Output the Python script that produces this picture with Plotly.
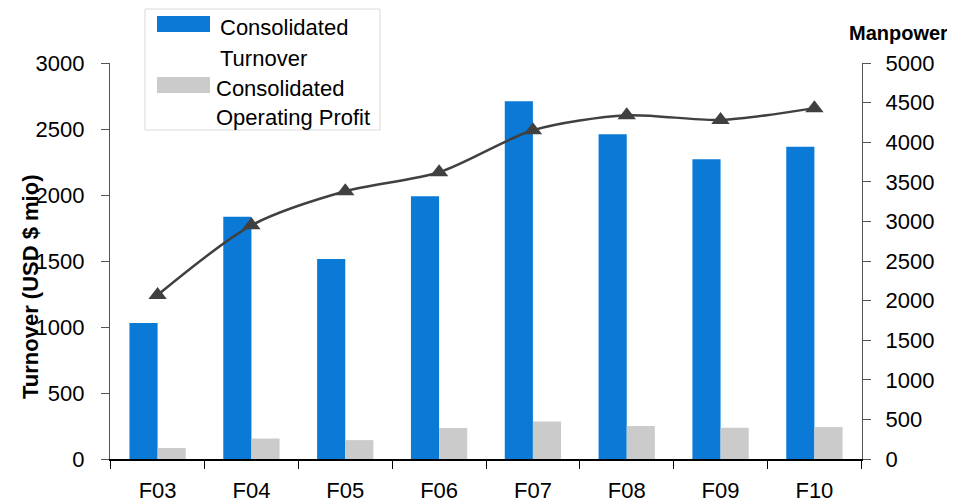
import plotly.graph_objects as go

categories = ["F03", "F04", "F05", "F06", "F07", "F08", "F09", "F10"]
turnover = [1030, 1835, 1515, 1990, 2710, 2460, 2270, 2365]
op_profit = [83, 155, 143, 235, 285, 250, 237, 242]
manpower = [2070, 2950, 3380, 3620, 4150, 4340, 4280, 4430]
left_ticks = [0, 500, 1000, 1500, 2000, 2500, 3000]
right_ticks = [0, 500, 1000, 1500, 2000, 2500, 3000, 3500, 4000, 4500, 5000]

FONT = "Liberation Sans, Arial, sans-serif"
BLUE = "#0A7AD6"
GREY = "#CBCBCB"

# page has an 8px body margin; figure sized to fit the 955x502 window
OFF = 8
FW, FH = 955 - OFF, 502 - OFF
# plot area in screen pixels
L, R, T, B = 110, 862, 63, 459
W, H = R - L, B - T


def px(x):
    return (x - L) / W


def py(y):
    return (B - y) / H


fig = go.Figure()
fig.add_trace(go.Bar(x=categories, y=turnover, name="Consolidated Turnover",
                     marker=dict(color=BLUE, line=dict(width=0)), yaxis="y", showlegend=False))
fig.add_trace(go.Bar(x=categories, y=op_profit, name="Consolidated Operating Profit",
                     marker=dict(color=GREY, line=dict(width=0)), yaxis="y", showlegend=False))
fig.add_trace(go.Scatter(x=categories, y=manpower, name="Manpower", yaxis="y2",
                         mode="lines+markers", showlegend=False,
                         line=dict(color="#404040", width=2.5, shape="spline", smoothing=0.8),
                         marker=dict(symbol="triangle-up", size=16, color="#404040")))

shapes = [
    # legend box
    dict(type="rect", xref="paper", yref="paper", x0=px(145), x1=px(380), y0=py(130), y1=py(9),
         line=dict(color="#D9D9D9", width=1), fillcolor="white", layer="below"),
    dict(type="rect", xref="paper", yref="paper", x0=px(157), x1=px(210), y0=py(32), y1=py(16),
         line=dict(width=0), fillcolor=BLUE),
    dict(type="rect", xref="paper", yref="paper", x0=px(157), x1=px(210), y0=py(93), y1=py(77),
         line=dict(width=0), fillcolor=GREY),
]

legend_texts = [("Consolidated", 218, 27), ("Turnover", 218, 58),
                ("Consolidated", 214, 88), ("Operating Profit", 214, 118)]

annotations = [
    dict(text="<b>Turnover (USD $ mio)</b>", xref="paper", yref="paper",
         x=px(30), y=py(287), textangle=-90, xanchor="center", yanchor="middle",
         showarrow=False, font=dict(family=FONT, size=22)),
    dict(text="<b>Manpower</b>", xref="paper", yref="paper",
         x=px(898), y=py(33), xanchor="center", yanchor="middle",
         showarrow=False, font=dict(family=FONT, size=20)),
]
for t, x, y in legend_texts:
    annotations.append(dict(text=t, xref="paper", yref="paper", x=px(x), y=py(y),
                            xanchor="left", yanchor="middle", showarrow=False,
                            font=dict(family=FONT, size=22)))

fig.update_layout(
    width=FW, height=FH,
    margin=dict(l=L - OFF, r=FW - (R - OFF), t=T - OFF, b=FH - (B - OFF), autoexpand=False),
    paper_bgcolor="white", plot_bgcolor="white",
    font=dict(family=FONT, size=22, color="#000000"),
    barmode="group", bargap=0.4, bargroupgap=0,
    showlegend=False,
    xaxis=dict(showline=True, linecolor="#000000", linewidth=1.5,
               ticks="outside", ticklen=8, tickson="boundaries", tickcolor="#000000",
               ticklabelstandoff=11, showgrid=False, zeroline=False, automargin=False),
    xaxis2=dict(overlaying="x", range=[-0.5, 7.5], tickvals=[i - 0.5 for i in range(9)],
                ticks="inside", ticklen=8, tickcolor="#000000", showticklabels=False,
                showline=False, showgrid=False, zeroline=False, side="bottom", anchor="y"),
    yaxis=dict(range=[0, 3000], tickvals=left_ticks,
               showline=True, linecolor="#555555", linewidth=1.2,
               ticks="outside", ticklen=8, tickcolor="#555555",
               ticklabelstandoff=12, showgrid=False, zeroline=False, automargin=False),
    yaxis3=dict(range=[0, 3000], tickvals=left_ticks, overlaying="y", side="left",
                ticks="inside", ticklen=8, tickcolor="#555555", showticklabels=False,
                showline=False, showgrid=False, zeroline=False),
    yaxis2=dict(range=[0, 5000], tickvals=right_ticks,
                overlaying="y", side="right",
                showline=True, linecolor="#555555", linewidth=1.2,
                ticks="outside", ticklen=8, tickcolor="#555555",
                ticklabelstandoff=10, showgrid=False, zeroline=False, automargin=False),
    shapes=shapes,
    annotations=annotations,
)

fig.write_html("out.html")
